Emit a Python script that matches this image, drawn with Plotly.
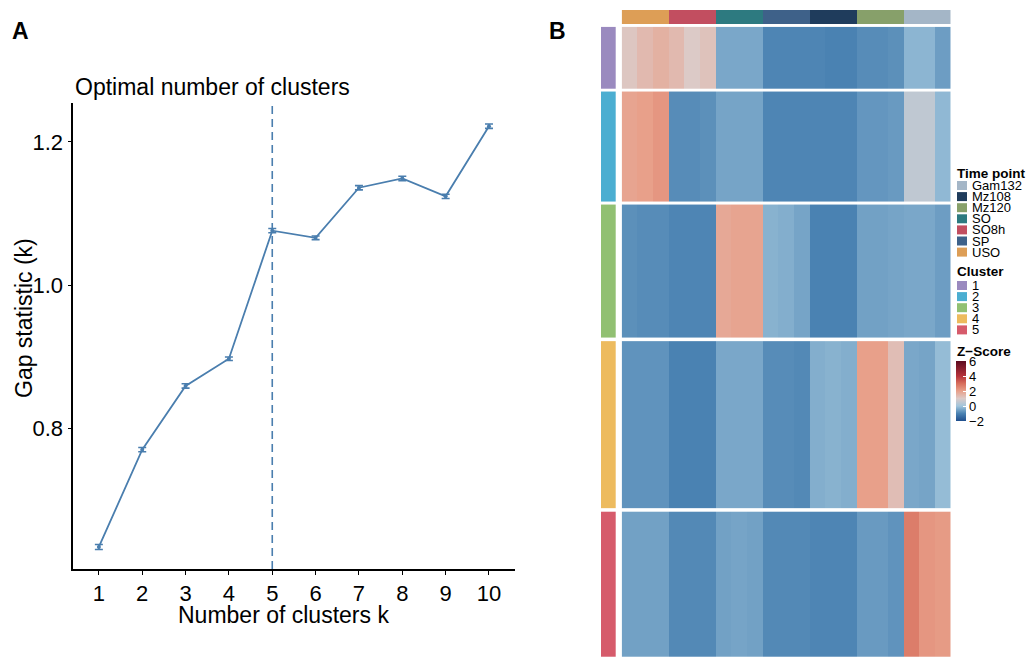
import plotly.graph_objects as go

W, H = 1033, 657
FONT = "Liberation Sans, Arial, Helvetica, sans-serif"

# ---------------- Panel A data ----------------
k_values = [1, 2, 3, 4, 5, 6, 7, 8, 9, 10]
gap_stat = [0.634, 0.770, 0.859, 0.897, 1.076, 1.066, 1.136, 1.149, 1.124, 1.222]
gap_se = [0.0035, 0.003, 0.003, 0.0025, 0.003, 0.0025, 0.003, 0.003, 0.003, 0.003]
optimal_k = 5
y_tick_values = [0.8, 1.0, 1.2]
y_tick_labels = ["0.8", "1.0", "1.2"]

# ---------------- Panel B data ----------------
time_points = ["USO", "SO8h", "SO", "SP", "Mz108", "Mz120", "Gam132"]
time_colors = ["#DD9E56", "#C24E60", "#2D7A80", "#3E6189", "#1F3C5C", "#87A06A", "#A4B6C7"]
legend_time_order = ["Gam132", "Mz108", "Mz120", "SO", "SO8h", "SP", "USO"]
replicates_per_time = 3

cluster_labels = ["1", "2", "3", "4", "5"]
cluster_colors = ["#9A8ABF", "#4BAED1", "#91C072", "#EDBB5E", "#D65B6B"]
cluster_gene_counts = [308, 549, 667, 837, 727]

# mean z-score per sample (USO x3, SO8h x3, SO x3, SP x3, Mz108 x3, Mz120 x3, Gam132 x3)
cluster1_z = [1.1, 1.4, 1.6, 1.4, 1.0, 1.2, -0.45, -0.45, -0.45, -0.95, -0.95, -0.95,
              -0.95, -1.0, -1.0, -0.85, -0.85, -0.8, -0.25, -0.25, -0.6]
cluster2_z = [1.9, 2.0, 2.2, -0.85, -0.85, -0.8, -0.5, -0.5, -0.5, -0.95, -0.95, -0.95,
              -0.95, -0.95, -0.95, -0.7, -0.7, -0.65, 0.5, 0.5, -0.2]
cluster3_z = [-0.8, -0.85, -0.85, -0.95, -0.95, -0.95, 1.8, 1.9, 1.9, -0.3, -0.35, -0.5,
              -1.0, -1.0, -1.0, -0.55, -0.55, -0.5, -0.45, -0.45, -0.6]
cluster4_z = [-0.75, -0.75, -0.75, -1.0, -1.0, -1.0, -0.45, -0.45, -0.45, -0.85, -0.85, -0.9,
              -0.35, -0.3, -0.35, 2.0, 2.0, 1.3, -0.45, -0.5, -0.15]
cluster5_z = [-0.55, -0.55, -0.55, -0.9, -0.9, -0.9, -0.55, -0.5, -0.55, -0.9, -0.9, -0.9,
              -0.95, -0.95, -0.95, -0.65, -0.65, -0.75, 2.7, 2.2, 2.1]
cluster_z = [cluster1_z, cluster2_z, cluster3_z, cluster4_z, cluster5_z]

zscore_ticks = [-2, 0, 2, 4, 6]
zscore_tick_labels = ["\u22122", "0", "2", "4", "6"]
zmin, zmax = -2, 6
zscore_stops = [(-2, "#1F4E8D"), (-1, "#4A82B2"), (0, "#A2C6DC"), (1, "#DCCAC7"),
                (2, "#E8A08A"), (3, "#D76E5C"), (4, "#B5323A"), (6, "#5C0B20")]

BLUE = "#4A7EAE"

fig = go.Figure()
annotations = []
shapes = []

# ---------------- Panel A ----------------
fig.add_trace(go.Scatter(
    x=k_values, y=gap_stat, mode="lines+markers",
    line=dict(color=BLUE, width=1.8),
    marker=dict(color=BLUE, size=4),
    error_y=dict(type="data", array=gap_se, color=BLUE, thickness=1.6, width=4),
    xaxis="x", yaxis="y", showlegend=False, hoverinfo="x+y"))

shapes.append(dict(type="line", xref="x", yref="y domain", x0=optimal_k, x1=optimal_k,
                   y0=0, y1=1, line=dict(color=BLUE, width=1.6, dash="8px,5px")))

# ---------------- Panel B heatmap ----------------
n_cols = len(time_points) * replicates_per_time
col_edges = [i - 0.5 for i in range(n_cols + 1)]
GAP_UNITS = 16.5
starts = []
pos = 0.0
for n in cluster_gene_counts:
    starts.append(pos)
    pos += n + GAP_UNITS
total_units = pos - GAP_UNITS

zscale = [[(v - zmin) / (zmax - zmin), c] for v, c in zscore_stops]

for i, (z_row, n) in enumerate(zip(cluster_z, cluster_gene_counts)):
    y_edges = [starts[i], starts[i] + n]
    fig.add_trace(go.Heatmap(
        z=[z_row], x=col_edges, y=y_edges, xaxis="x2", yaxis="y2",
        colorscale=zscale, zmin=zmin, zmax=zmax, showscale=(i == 0),
        colorbar=dict(x=956 / W, xanchor="left", y=1 - 391 / H, yanchor="middle",
                      len=60, lenmode="pixels", thickness=10, thicknessmode="pixels",
                      tickvals=zscore_ticks, ticktext=zscore_tick_labels,
                      ticks="inside", ticklen=3, tickcolor="white",
                      tickfont=dict(family=FONT, size=13, color="black"),
                      outlinewidth=0, xpad=0, ypad=0),
        hoverinfo="z"))
    # row annotation (cluster)
    cscale = [[0, cluster_colors[i]], [1, cluster_colors[i]]]
    fig.add_trace(go.Heatmap(
        z=[[i]], x=[0, 1], y=y_edges, xaxis="x3", yaxis="y2",
        colorscale=cscale, showscale=False, hoverinfo="skip"))

# column annotation (time point)
group_index = [g for g in range(len(time_points)) for _ in range(replicates_per_time)]
nt = len(time_points)
tscale = []
for g, c in enumerate(time_colors):
    tscale.append([g / nt, c])
    tscale.append([(g + 1) / nt, c])
fig.add_trace(go.Heatmap(
    z=[group_index], x=col_edges, y=[0, 1], xaxis="x2", yaxis="y3",
    colorscale=tscale, zmin=-0.5, zmax=nt - 0.5, showscale=False, hoverinfo="skip"))

# ---------------- Legends (Panel B) ----------------
LEG_FONT = 13

def legend_block(title, title_y, labels, colors, first_y, step):
    annotations.append(dict(text="<b>%s</b>" % title, x=955 / W, y=1 - title_y / H,
                            xref="paper", yref="paper", xanchor="left", yanchor="middle",
                            showarrow=False, font=dict(family=FONT, size=13.5, color="black")))
    for j, (lab, col) in enumerate(zip(labels, colors)):
        yc = first_y + j * step
        shapes.append(dict(type="rect", xref="paper", yref="paper",
                           x0=957 / W, x1=967 / W, y0=1 - (yc + 4.5) / H, y1=1 - (yc - 4.5) / H,
                           fillcolor=col, line=dict(width=0)))
        annotations.append(dict(text=lab, x=970 / W, y=1 - yc / H, xref="paper", yref="paper",
                                xanchor="left", yanchor="middle", showarrow=False,
                                font=dict(family=FONT, size=LEG_FONT, color="black")))

legend_block("Time point", 173, legend_time_order,
             [time_colors[time_points.index(t)] for t in legend_time_order], 185.5, 11.1)
legend_block("Cluster", 271.5, cluster_labels, cluster_colors, 285.5, 11.1)
annotations.append(dict(text="<b>Z\u2212Score</b>", x=955 / W, y=1 - 351 / H, xref="paper",
                        yref="paper", xanchor="left", yanchor="middle", showarrow=False,
                        font=dict(family=FONT, size=13.5, color="black")))

# ---------------- Panel A text ----------------
annotations += [
    dict(text="<b>A</b>", x=20 / W, y=1 - 31 / H, xref="paper", yref="paper",
         xanchor="center", yanchor="middle", showarrow=False,
         font=dict(family=FONT, size=23, color="black")),
    dict(text="<b>B</b>", x=557 / W, y=1 - 31 / H, xref="paper", yref="paper",
         xanchor="center", yanchor="middle", showarrow=False,
         font=dict(family=FONT, size=23, color="black")),
    dict(text="Optimal number of clusters", x=73 / W, y=1 - 87.5 / H, xref="paper", yref="paper",
         xanchor="left", yanchor="middle", showarrow=False,
         font=dict(family=FONT, size=23, color="black")),
    dict(text="Number of clusters k", x=283 / W, y=1 - 615 / H, xref="paper", yref="paper",
         xanchor="center", yanchor="middle", showarrow=False,
         font=dict(family=FONT, size=23, color="black")),
    dict(text="Gap statistic (k)", x=24 / W, y=1 - 318 / H, xref="paper", yref="paper",
         xanchor="center", yanchor="middle", showarrow=False, textangle=-90,
         font=dict(family=FONT, size=23, color="black")),
]

fig.update_layout(
    width=W, height=H, autosize=False,
    margin=dict(l=0, r=0, t=0, b=0, pad=0),
    paper_bgcolor="white", plot_bgcolor="white",
    showlegend=False,
    font=dict(family=FONT, color="black"),
    xaxis=dict(domain=[73.3 / W, 515 / W], range=[0.41, 10.6], tickvals=k_values,
               ticks="outside", ticklen=4, tickwidth=1.3, tickcolor="black",
               showline=True, linecolor="black", linewidth=1.6,
               showgrid=False, zeroline=False, anchor="y",
               tickfont=dict(family=FONT, size=22, color="black")),
    yaxis=dict(domain=[1 - 569 / H, 1 - 103.3 / H], range=[0.6032, 1.254],
               tickvals=y_tick_values, ticktext=y_tick_labels,
               ticks="outside", ticklen=4, tickwidth=1.3, tickcolor="black",
               showline=True, linecolor="black", linewidth=1.6,
               showgrid=False, zeroline=False, anchor="x",
               tickfont=dict(family=FONT, size=22, color="black")),
    xaxis2=dict(domain=[621.7 / W, 950.7 / W], range=[-0.5, n_cols - 0.5], visible=False,
                anchor="y2", fixedrange=True),
    yaxis2=dict(domain=[0, 1 - 26.7 / H], range=[total_units, 0], visible=False,
                anchor="x2", fixedrange=True),
    yaxis3=dict(domain=[1 - 24 / H, 1 - 10 / H], range=[0, 1], visible=False,
                anchor="x2", fixedrange=True),
    xaxis3=dict(domain=[601 / W, 615.7 / W], range=[0, 1], visible=False,
                anchor="y2", fixedrange=True),
    annotations=annotations,
    shapes=shapes,
)

fig.write_html("out.html",
               config={"displayModeBar": False},
               post_script="document.body.style.margin='0';document.body.style.padding='0';"
                           "document.body.style.overflow='hidden';")
